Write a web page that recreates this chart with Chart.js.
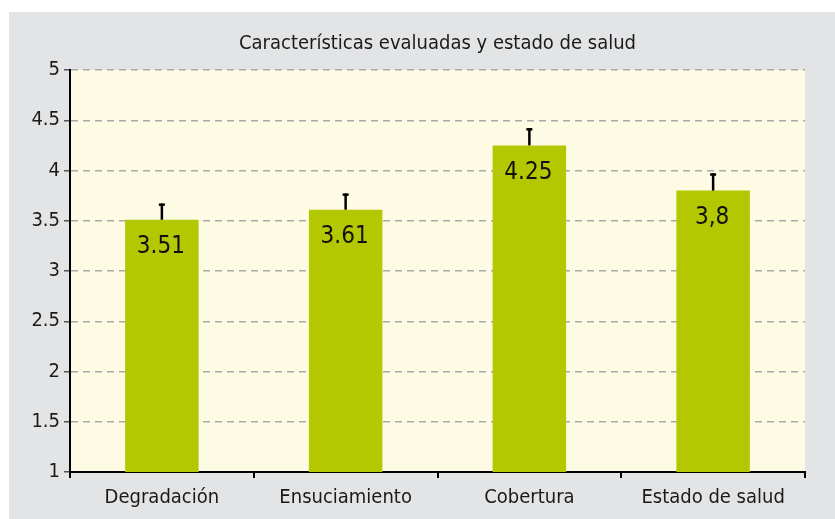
<!DOCTYPE html>
<html>
<head>
<meta charset="utf-8">
<script src="https://cdn.jsdelivr.net/npm/chart.js@4"></script>
<style>
    html, body { margin: 0; padding: 0; background: #ffffff; }
    #wrap { width: 835px; height: 519px; }
</style>
</head>
<body>
<div id="wrap"><canvas id="main" width="835" height="519"></canvas></div>
<script>
// Data
const categories = ['Degradación', 'Ensuciamiento', 'Cobertura', 'Estado de salud']
const meanValues = [3.51, 3.61, 4.25, 3.8]
const errorValues = [0.16, 0.16, 0.17, 0.17]
const valueLabels = ['3.51', '3.61', '4.25', '3,8']
const yTickValues = [1, 1.5, 2, 2.5, 3, 3.5, 4, 4.5, 5]
const yTickLabels = ['1', '1.5', '2', '2.5', '3', '3.5', '4', '4.5', '5']
const chartTitle = 'Características evaluadas y estado de salud'

const fontName = '"Liberation Sans Narrow", "DejaVu Sans Condensed", sans-serif'

// Panel backgrounds and title
const backgroundPlugin = {
    id: 'panels',
    beforeDraw(chart) {
        const ctx = chart.ctx
        const area = chart.chartArea
        ctx.save()
        ctx.fillStyle = '#ffffff'
        ctx.fillRect(0, 0, chart.width, chart.height)
        ctx.fillStyle = '#e3e4e6'
        ctx.fillRect(9, 12, chart.width - 9, chart.height - 12)
        ctx.fillStyle = '#fdfbe3'
        ctx.fillRect(area.left, area.top, area.right - area.left, area.bottom - area.top)

        // title centred over the plot area
        ctx.fillStyle = '#1a1a1a'
        ctx.font = '20px ' + fontName
        ctx.textAlign = 'center'
        ctx.textBaseline = 'middle'
        ctx.fillText(chartTitle, (area.left + area.right) / 2, 44)
        ctx.restore()
    }
}

// Error bars (upper whisker) and value labels inside the bars
const barExtrasPlugin = {
    id: 'barExtras',
    afterDatasetsDraw(chart) {
        const ctx = chart.ctx
        const yScale = chart.scales.y
        const meta = chart.getDatasetMeta(0)
        ctx.save()
        meta.data.forEach(function(bar, i) {
            const x = bar.x
            const top = yScale.getPixelForValue(meanValues[i])
            const capY = yScale.getPixelForValue(meanValues[i] + errorValues[i])
            ctx.strokeStyle = '#000000'
            ctx.lineWidth = 2.5
            ctx.beginPath()
            ctx.moveTo(x, top)
            ctx.lineTo(x, capY)
            ctx.stroke()
            ctx.lineWidth = 2.5
            ctx.beginPath()
            ctx.moveTo(x - 3, capY + 1)
            ctx.lineTo(x + 3, capY + 1)
            ctx.stroke()

            ctx.fillStyle = '#111111'
            ctx.font = '24px ' + fontName
            ctx.textAlign = 'center'
            ctx.textBaseline = 'middle'
            ctx.fillText(valueLabels[i], x - 1, top + 27)
        })
        ctx.restore()
    }
}

window.mainChart = new Chart('main', {
    type: 'bar',
    data: {
        labels: categories,
        datasets: [{
            label: 'Media',
            data: meanValues,
            backgroundColor: '#b3c800',
            borderWidth: 0,
            categoryPercentage: 1.0,
            barPercentage: 0.4
        }]
    },
    options: {
        responsive: false,
        animation: false,
        devicePixelRatio: 1,
        layout: {
            padding: { left: 0, right: 30, top: 70, bottom: 0 }
        },
        scales: {
            y: {
                min: 1,
                max: 5,
                afterFit(scale) { scale.width = 70 },
                ticks: {
                    stepSize: 0.5,
                    padding: 4,
                    color: '#1a1a1a',
                    font: { family: fontName, size: 20 },
                    callback: function(value) {
                        const i = yTickValues.indexOf(value)
                        return i >= 0 ? yTickLabels[i] : ''
                    }
                },
                grid: {
                    color: '#aaaaaa',
                    lineWidth: 1.5,
                    tickLength: 6,
                    tickColor: '#555555',
                    tickBorderDash: [],
                    tickWidth: 1.5
                },
                border: {
                    display: true,
                    color: '#000000',
                    width: 2,
                    dash: [7, 5]
                }
            },
            x: {
                afterFit(scale) { scale.height = 47 },
                ticks: {
                    padding: 8,
                    color: '#1a1a1a',
                    font: { family: fontName, size: 20 }
                },
                grid: {
                    drawOnChartArea: false,
                    offset: true,
                    color: '#000000',
                    lineWidth: 2,
                    tickLength: 6
                },
                border: {
                    display: true,
                    color: '#000000',
                    width: 2
                }
            }
        },
        plugins: {
            legend: { display: false },
            tooltip: { enabled: false },
            title: { display: false }
        }
    },
    plugins: [backgroundPlugin, barExtrasPlugin]
})
</script>
</body>
</html>
